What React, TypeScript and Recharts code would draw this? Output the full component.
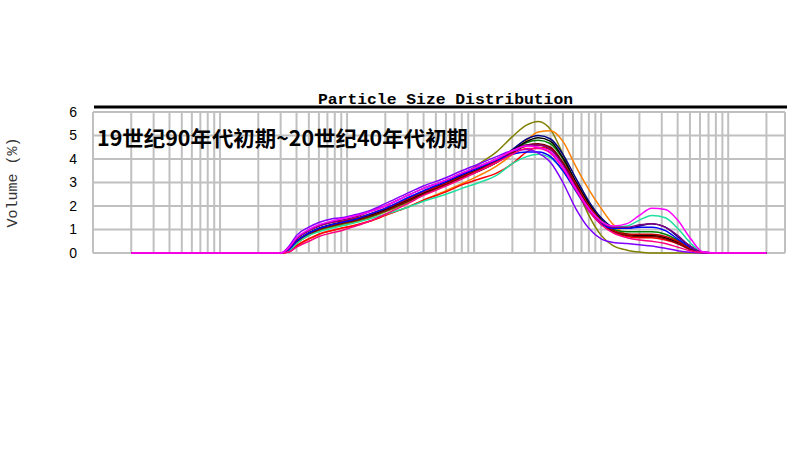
import { LineChart, Line, XAxis, YAxis, CartesianGrid, Label } from "recharts";

// particle size classes (µm) the curves are sampled at
const SIZES = [0.02, 0.3, 0.35, 0.4, 0.5, 0.6, 0.75, 0.9, 1.1, 1.5, 2, 3, 4, 6, 8, 11, 15, 20, 26, 32, 40, 50, 63, 80, 100, 125, 160, 200, 250, 320, 400, 500, 630, 800, 2000];

const OLIVE = [0, 0, 0.1, 0.4, 0.75, 0.95, 1.1, 1.2, 1.3, 1.5, 1.75, 2.15, 2.5, 2.95, 3.3, 3.8, 4.3, 4.95, 5.45, 5.6, 5.25, 4.2, 2.9, 1.6, 0.75, 0.3, 0.12, 0.04, 0, 0, 0, 0, 0, 0, 0];
const ORANGE = [0, 0, 0.05, 0.3, 0.6, 0.8, 0.95, 1.05, 1.15, 1.35, 1.6, 1.95, 2.25, 2.65, 2.95, 3.3, 3.7, 4.2, 4.8, 5.15, 5.2, 4.75, 3.7, 2.7, 1.9, 1.2, 0.8, 0.75, 0.75, 0.65, 0.45, 0.2, 0.02, 0, 0];
const NAVY = [0, 0, 0.15, 0.5, 0.85, 1.05, 1.2, 1.3, 1.4, 1.6, 1.85, 2.3, 2.6, 3.0, 3.3, 3.6, 3.95, 4.4, 4.85, 5.0, 4.85, 4.2, 3.2, 2.2, 1.5, 1.1, 1.05, 1.15, 1.25, 1.1, 0.7, 0.3, 0.03, 0, 0];
const GREEN = [0, 0, 0.1, 0.45, 0.8, 1.0, 1.15, 1.25, 1.35, 1.55, 1.8, 2.2, 2.5, 2.9, 3.2, 3.5, 3.85, 4.3, 4.7, 4.8, 4.65, 4.0, 3.0, 2.05, 1.4, 1.0, 0.9, 0.9, 0.9, 0.8, 0.55, 0.25, 0.02, 0, 0];
const BLACK = [0, 0, 0.15, 0.5, 0.85, 1.05, 1.2, 1.3, 1.4, 1.6, 1.85, 2.25, 2.55, 2.95, 3.25, 3.55, 3.9, 4.35, 4.75, 4.9, 4.75, 4.05, 3.05, 2.1, 1.4, 0.95, 0.8, 0.75, 0.75, 0.65, 0.45, 0.2, 0.02, 0, 0];
const RED = [0, 0, 0.05, 0.3, 0.6, 0.8, 0.95, 1.05, 1.15, 1.35, 1.6, 1.95, 2.25, 2.6, 2.9, 3.15, 3.4, 3.8, 4.3, 4.5, 4.4, 3.85, 2.95, 2.0, 1.35, 0.9, 0.7, 0.65, 0.65, 0.55, 0.4, 0.15, 0.02, 0, 0];
const DARK_RED = [0, 0, 0.2, 0.6, 0.95, 1.15, 1.3, 1.35, 1.45, 1.65, 1.9, 2.3, 2.6, 2.95, 3.25, 3.55, 3.9, 4.3, 4.55, 4.6, 4.45, 3.8, 2.85, 1.95, 1.3, 0.95, 0.8, 0.8, 0.8, 0.7, 0.5, 0.2, 0.02, 0, 0];
const MAGENTA = [0, 0, 0.25, 0.65, 1.0, 1.2, 1.35, 1.45, 1.55, 1.75, 2.0, 2.45, 2.75, 3.1, 3.4, 3.7, 4.0, 4.35, 4.55, 4.5, 4.3, 3.65, 2.75, 1.9, 1.35, 1.15, 1.25, 1.6, 1.9, 1.85, 1.4, 0.65, 0.05, 0, 0];
const AQUA = [0, 0, 0.1, 0.4, 0.75, 0.9, 1.05, 1.15, 1.25, 1.45, 1.65, 1.95, 2.2, 2.5, 2.75, 3.0, 3.3, 3.8, 4.1, 4.2, 4.05, 3.5, 2.7, 1.9, 1.35, 1.1, 1.15, 1.4, 1.6, 1.5, 1.05, 0.45, 0.04, 0, 0];
const BLUE = [0, 0, 0.15, 0.5, 0.85, 1.05, 1.2, 1.3, 1.4, 1.65, 1.9, 2.35, 2.65, 3.05, 3.35, 3.65, 3.95, 4.2, 4.3, 4.3, 4.1, 3.5, 2.65, 1.8, 1.25, 1.05, 1.05, 1.1, 1.1, 0.95, 0.6, 0.25, 0.02, 0, 0];
const PURPLE = [0, 0, 0.3, 0.75, 1.1, 1.3, 1.45, 1.5, 1.6, 1.8, 2.1, 2.55, 2.85, 3.2, 3.5, 3.8, 4.1, 4.35, 4.4, 4.25, 3.85, 3.0, 1.9, 1.05, 0.6, 0.45, 0.4, 0.35, 0.3, 0.2, 0.1, 0.03, 0, 0, 0];
const PINK = [0, 0, 0.05, 0.25, 0.5, 0.7, 0.85, 0.95, 1.1, 1.35, 1.65, 2.1, 2.45, 2.85, 3.15, 3.5, 3.85, 4.2, 4.45, 4.45, 4.25, 3.6, 2.7, 1.8, 1.2, 0.85, 0.65, 0.55, 0.5, 0.4, 0.25, 0.1, 0.02, 0, 0];
const VIOLET = [0, 0, 0.2, 0.6, 0.95, 1.15, 1.3, 1.4, 1.5, 1.75, 2.0, 2.45, 2.75, 3.1, 3.4, 3.7, 4.0, 4.35, 4.6, 4.6, 4.4, 3.75, 2.8, 1.9, 1.3, 1.1, 1.1, 1.2, 1.25, 1.1, 0.75, 0.3, 0.03, 0, 0];
const MAROON = [0, 0, 0.1, 0.45, 0.8, 1.0, 1.15, 1.25, 1.35, 1.55, 1.8, 2.2, 2.5, 2.9, 3.2, 3.5, 3.85, 4.25, 4.6, 4.65, 4.5, 3.85, 2.9, 1.95, 1.3, 0.9, 0.75, 0.7, 0.7, 0.6, 0.4, 0.15, 0.02, 0, 0];

const SERIES = [
    { key: "s1", color: "#808000", values: OLIVE },
    { key: "s2", color: "#ff8000", values: ORANGE },
    { key: "s3", color: "#000080", values: NAVY },
    { key: "s4", color: "#008000", values: GREEN },
    { key: "s5", color: "#000000", values: BLACK },
    { key: "s6", color: "#ff0000", values: RED },
    { key: "s7", color: "#c00000", values: DARK_RED },
    { key: "s8", color: "#800000", values: MAROON },
    { key: "s9", color: "#20e0a0", values: AQUA },
    { key: "s10", color: "#0000ff", values: BLUE },
    { key: "s11", color: "#8000ff", values: PURPLE },
    { key: "s12", color: "#800080", values: VIOLET },
    { key: "s13", color: "#ff0080", values: PINK },
    { key: "s14", color: "#ff00ff", values: MAGENTA },
];

// log grid: 1..9 in every decade
const GRID_TICKS = [
    0.01, 0.02, 0.03, 0.04, 0.05, 0.06, 0.07, 0.08, 0.09,
    0.1, 0.2, 0.3, 0.4, 0.5, 0.6, 0.7, 0.8, 0.9,
    1, 2, 3, 4, 5, 6, 7, 8, 9,
    10, 20, 30, 40, 50, 60, 70, 80, 90,
    100, 200, 300, 400, 500, 600, 700, 800, 900,
    1000, 2000,
];
const Y_TICKS = [0, 1, 2, 3, 4, 5, 6];

const TITLE = "Particle Size Distribution";
const CAPTION = "19世纪90年代初期~20世纪40年代初期";

const data = SIZES.map((size, i) => {
    const row: Record<string, number> = { size };
    SERIES.forEach((s) => { row[s.key] = s.values[i]; });
    return row;
});

// x ticks are only there for the grid, no labels
const NoTick = () => <g />;

export default function App() {
    return (
        <div style={{ position: "absolute", left: 0, top: 0, width: 800, height: 450, background: "#fff" }}>
            <LineChart width={800} height={450} data={data} margin={{ top: 112, right: 15, left: 0, bottom: 187 }}>
                <CartesianGrid stroke="#c0c0c0" strokeWidth={2} />
                <XAxis
                    dataKey="size"
                    type="number"
                    scale="log"
                    domain={[0.01, 2800]}
                    allowDataOverflow
                    ticks={GRID_TICKS}
                    interval={0}
                    height={10}
                    tick={<NoTick />}
                    axisLine={false}
                    tickLine={false}
                />
                <YAxis
                    domain={[0, 6]}
                    ticks={Y_TICKS}
                    width={93}
                    axisLine={false}
                    tickLine={false}
                    tickSize={0}
                    tickMargin={16}
                    tick={{ fontSize: 14, fill: "#000", fontFamily: "Liberation Sans" }}
                >
                    <Label
                        value="Volume (%)"
                        angle={-90}
                        position="insideLeft"
                        offset={12}
                        style={{ fontSize: 15, fontFamily: "Liberation Mono", fill: "#333", textAnchor: "middle" }}
                    />
                </YAxis>
                {SERIES.map((s) => (
                    <Line
                        key={s.key}
                        dataKey={s.key}
                        stroke={s.color}
                        strokeWidth={1.5}
                        dot={false}
                        type="monotone"
                        isAnimationActive={false}
                    />
                ))}
            </LineChart>
            <svg width={800} height={450} style={{ position: "absolute", left: 0, top: 0, pointerEvents: "none" }}>
                <text
                    x={318}
                    y={104}
                    textLength={255}
                    lengthAdjust="spacingAndGlyphs"
                    style={{ fontFamily: "Liberation Mono", fontWeight: "bold", fontSize: 14, fill: "#000" }}
                >
                    {TITLE}
                </text>
                <line x1={94} x2={787} y1={107} y2={107} stroke="#000" strokeWidth={3} />
                <text
                    x={97}
                    y={146}
                    textLength={371}
                    lengthAdjust="spacingAndGlyphs"
                    style={{ fontFamily: "Noto Sans CJK SC", fontWeight: "bold", fontSize: 21, fill: "#000" }}
                >
                    {CAPTION}
                </text>
            </svg>
        </div>
    );
}
